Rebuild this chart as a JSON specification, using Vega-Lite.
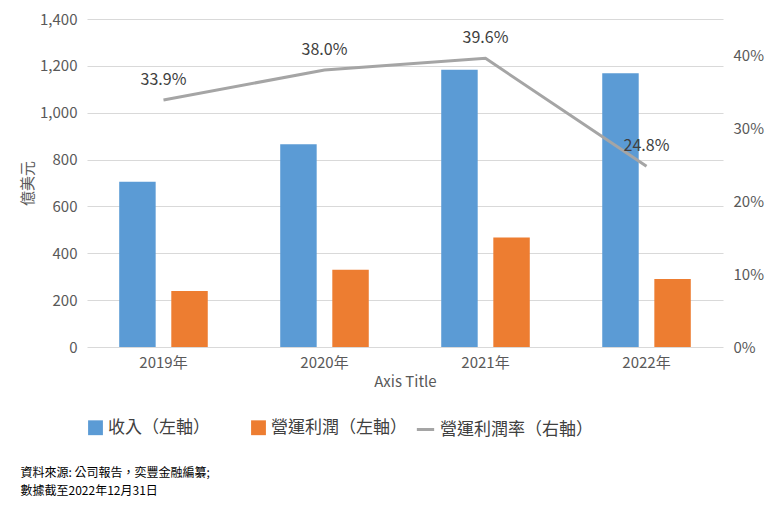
{
"$schema":"https://vega.github.io/schema/vega-lite/v6.json",
"width":784,"height":509,
"autosize":{"type":"fit","contains":"padding"},
"padding":{"left":20,"right":20,"top":12,"bottom":12},
"background":"white",
"config":{"font":"Noto Sans CJK TC","view":{"stroke":null},"axis":{"labelFontSize":15,"labelColor":"#595959","titleColor":"#595959","domain":false,"ticks":false}},
"title":{"text":"資料來源: 公司報告，奕豐金融編纂;","subtitle":"數據截至2022年12月31日","orient":"bottom","anchor":"start","fontSize":12,"subtitleFontSize":12,"subtitlePadding":6,"fontWeight":"normal","color":"#000","subtitleColor":"#000","offset":30},
"data":{"values":[
{"year":"2019年","收入（左軸）":705,"營運利潤（左軸）":239,"rate":0.339},
{"year":"2020年","收入（左軸）":865,"營運利潤（左軸）":330,"rate":0.380},
{"year":"2021年","收入（左軸）":1183,"營運利潤（左軸）":467,"rate":0.396},
{"year":"2022年","收入（左軸）":1168,"營運利潤（左軸）":290,"rate":0.248}]},
"encoding":{"x":{"field":"year","type":"nominal","scale":{"paddingInner":0.45,"paddingOuter":0.2},"axis":{"labelAngle":0,"title":"Axis Title","titleFontSize":15,"titleFontWeight":"normal","labelPadding":8}}},
"layer":[
{"transform":[{"fold":["收入（左軸）","營運利潤（左軸）"],"as":["series","value"]}],
"mark":{"type":"bar"},
"encoding":{"xOffset":{"field":"series","scale":{"paddingInner":0.3}},
"y":{"field":"value","type":"quantitative","scale":{"domain":[0,1400]},"axis":{"values":[0,200,400,600,800,1000,1200,1400],"format":",.0f","title":"億美元","titleFontSize":15,"titleFontWeight":"normal","gridColor":"#d9d9d9","labelPadding":10}},
"color":{"field":"series","type":"nominal","sort":null,"scale":{"range":["#5b9bd5","#ed7d31"]},"legend":{"orient":"bottom","title":null,"labelFontSize":17,"symbolType":"square","symbolSize":220,"labelColor":"#404040","columnPadding":40,"offset":30}}}},
{"layer":[
{"mark":{"type":"line","strokeWidth":3,"color":"#a5a5a5"},
"encoding":{"y":{"field":"rate","type":"quantitative","scale":{"domain":[0,0.45]},"axis":{"orient":"right","format":".0%","values":[0,0.05,0.1,0.15,0.2,0.25,0.3,0.35,0.4,0.45],"labelOverlap":false,"grid":false,"title":null,"labelPadding":10}},
"stroke":{"datum":"營運利潤率（右軸）","scale":{"range":["#a5a5a5"]},"legend":{"orient":"bottom","title":null,"labelFontSize":17,"symbolType":"stroke","symbolStrokeWidth":3,"symbolSize":300,"labelColor":"#404040","offset":30}}}},
{"mark":{"type":"text","fontSize":16,"dy":-20,"color":"#404040"},
"encoding":{"y":{"field":"rate","type":"quantitative"},"text":{"field":"rate","format":".1%"}}}]}
],
"resolve":{"scale":{"y":"independent"}}
}
